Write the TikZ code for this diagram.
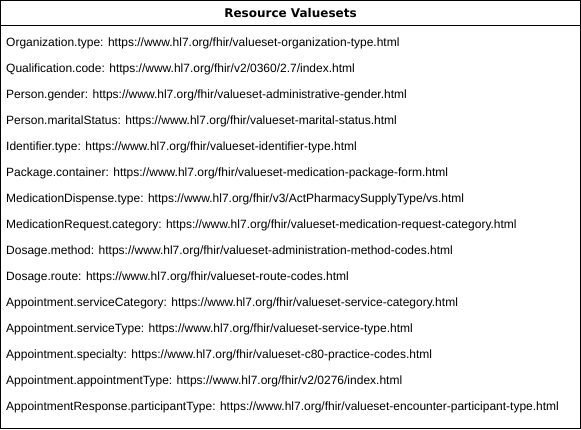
\documentclass[tikz,border=0pt]{standalone}
\usepackage{fontspec}
\setmainfont{Liberation Sans}
\newfontfamily\headfont{DejaVu Sans}
\begin{document}
\begin{tikzpicture}[x=1pt,y=-1pt,
  item/.style={anchor=west,inner sep=0pt,font=\fontsize{12}{14}\selectfont},
  head/.style={inner sep=0pt,font=\headfont\fontsize{12}{14}\selectfont\bfseries}]
\useasboundingbox (0,0) rectangle (581,429);
\draw[line width=1.2pt] (0.8,0.8) rectangle (580.2,428.2);
\draw[line width=1.2pt] (0.8,25.5) -- (580.2,25.5);
\node[head] (h) at (290.5,13.5) {Resource Valuesets};
\foreach \t [count=\i] in {
Organization.type: https://www.hl7.org/fhir/valueset-organization-type.html,
Qualification.code: https://www.hl7.org/fhir/v2/0360/2.7/index.html,
Person.gender: https://www.hl7.org/fhir/valueset-administrative-gender.html,
Person.maritalStatus: https://www.hl7.org/fhir/valueset-marital-status.html,
Identifier.type: https://www.hl7.org/fhir/valueset-identifier-type.html,
Package.container: https://www.hl7.org/fhir/valueset-medication-package-form.html,
MedicationDispense.type: https://www.hl7.org/fhir/v3/ActPharmacySupplyType/vs.html,
MedicationRequest.category: https://www.hl7.org/fhir/valueset-medication-request-category.html,
Dosage.method: https://www.hl7.org/fhir/valueset-administration-method-codes.html,
Dosage.route: https://www.hl7.org/fhir/valueset-route-codes.html,
Appointment.serviceCategory: https://www.hl7.org/fhir/valueset-service-category.html,
Appointment.serviceType: https://www.hl7.org/fhir/valueset-service-type.html,
Appointment.specialty: https://www.hl7.org/fhir/valueset-c80-practice-codes.html,
Appointment.appointmentType: https://www.hl7.org/fhir/v2/0276/index.html,
AppointmentResponse.participantType: https://www.hl7.org/fhir/valueset-encounter-participant-type.html}
{ \node[item] (l\i) at (6,{43+26*(\i-1)}) {\t}; }
\end{tikzpicture}
\end{document}
